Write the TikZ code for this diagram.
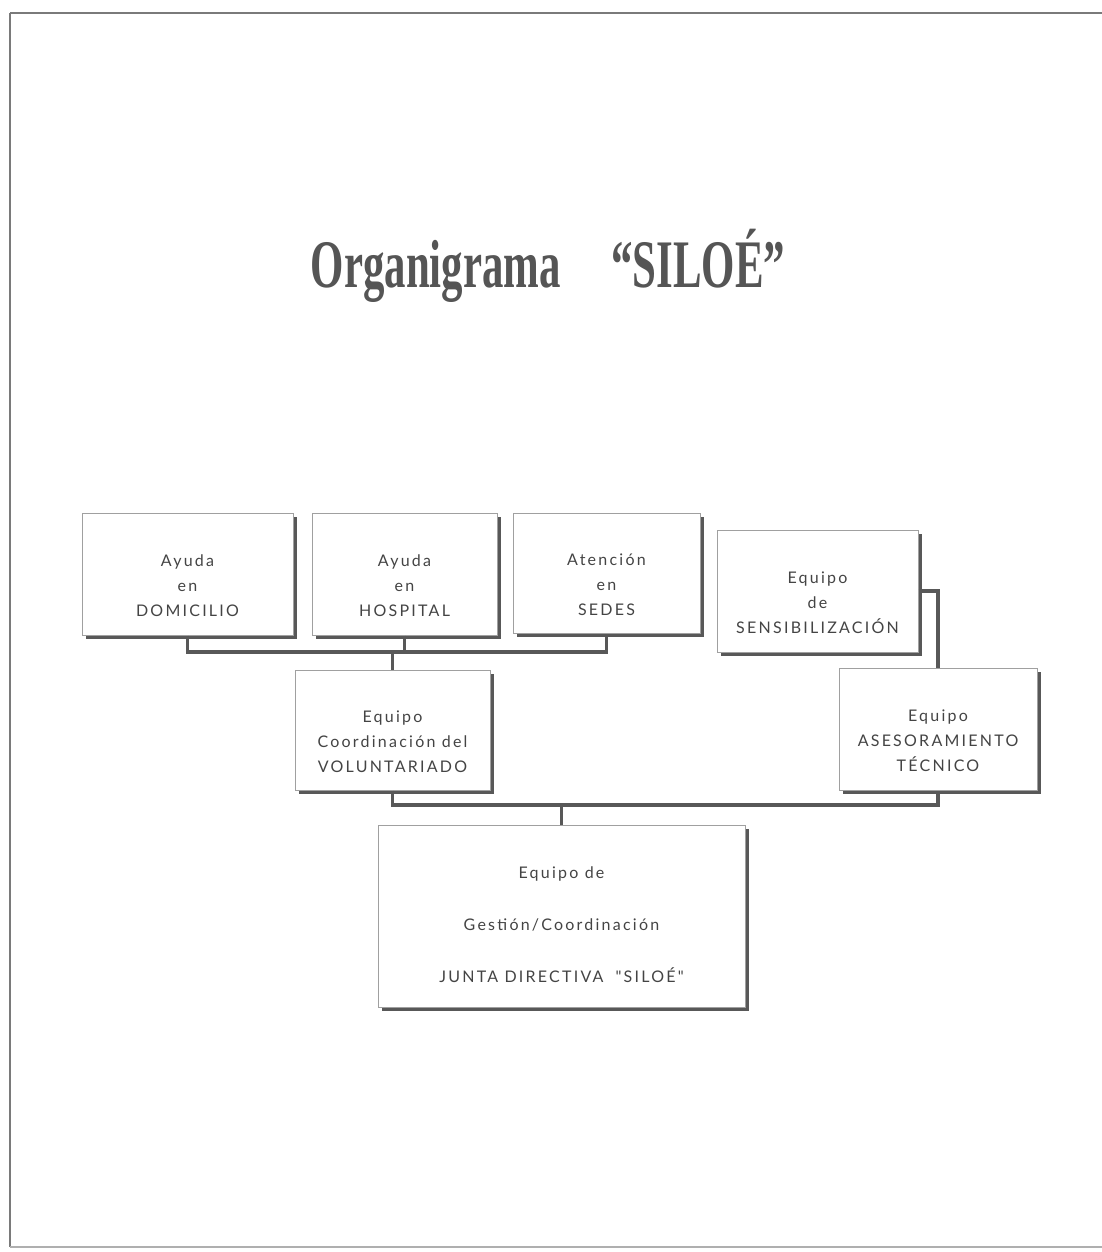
\documentclass[tikz,border=0pt]{standalone}
\usepackage{fontspec}
\setmainfont{Liberation Serif}
\newfontfamily\boxfont{Lato}[LetterSpace=14]
\usetikzlibrary{shadows}
\definecolor{ink}{HTML}{444444}
\definecolor{titlec}{HTML}{555555}
\definecolor{shadowc}{HTML}{585858}
\definecolor{edge}{HTML}{A0A0A0}
\definecolor{pagec}{HTML}{7A7A7A}
\tikzset{
  orgbox/.style={draw=edge, line width=0.5pt, fill=white, inner sep=0pt,
    drop shadow={shadow xshift=2pt, shadow yshift=-2pt, fill=shadowc, opacity=1}},
  boxtext/.style={align=center, text=ink, font=\boxfont\fontsize{8}{12.5}\selectfont, yshift=-6pt},
  bigtext/.style={align=center, text=ink, font=\boxfont\fontsize{8}{26}\selectfont, yshift=-4.5pt},
  conn/.style={draw=shadowc, line width=1.9pt},
  pageline/.style={draw=pagec, line width=1pt},
  titletext/.style={text=titlec, inner sep=0pt, anchor=base}
}
\begin{document}
\begin{tikzpicture}[x=0.5pt, y=-0.5pt]
\useasboundingbox (0,0) rectangle (1102,1252);
% page frame
\draw[pageline, line width=1.3pt] (1102,13) -- (10,13);
\draw[pageline] (10,13) -- (10,1247);
\draw[pageline, draw=pagec!60, line width=0.8pt] (10,1247) -- (1102,1247);
% title
\node[titletext] (title) at (548,287) {\scalebox{0.63}[1]{\bfseries\fontsize{34}{34}\selectfont Organigrama\hspace{40pt}“SILOÉ”}};
% boxes
\node[orgbox, minimum width=105.5pt, minimum height=61pt,
  label={[boxtext]center:Ayuda\\en\\DOMICILIO}] (b1) at (187.5,574) {};
\node[orgbox, minimum width=92.5pt, minimum height=61pt,
  label={[boxtext]center:Ayuda\\en\\HOSPITAL}] (b2) at (404.5,574) {};
\node[orgbox, minimum width=93.5pt, minimum height=60pt,
  label={[boxtext]center:Atención\\en\\SEDES}] (b3) at (606.5,573) {};
\node[orgbox, minimum width=100.5pt, minimum height=61pt,
  label={[boxtext]center:Equipo\\de\\SENSIBILIZACIÓN}] (b4) at (817.5,591) {};
\node[orgbox, minimum width=97.5pt, minimum height=60pt,
  label={[boxtext]center:Equipo\\Coordinación del\\VOLUNTARIADO}] (b5) at (392.5,730) {};
\node[orgbox, minimum width=99pt, minimum height=61pt,
  label={[boxtext]center:Equipo\\ASESORAMIENTO\\TÉCNICO}] (b6) at (938,729) {};
\node[orgbox, minimum width=183.5pt, minimum height=91pt,
  label={[bigtext]center:Equipo de\\Gestión/Coordinación\\JUNTA DIRECTIVA\hspace{6pt}"SILOÉ"}] (b7) at (561.5,916) {};
% connectors
\coordinate (bus1) at (0,652);
\coordinate (bus2) at (0,805);
\draw[conn] (b1.south) -- (b1.south |- bus1) -- (b3.south |- bus1) -- (b3.south);
\draw[conn] (b2.south) -- (b2.south |- bus1);
\draw[conn] (b5.north) -- (b5.north |- bus1);
\draw[conn] (b5.south) -- (b5.south |- bus2) -- (b6.south |- bus2) -- (b6.south);
\draw[conn] (b7.north) -- (b7.north |- bus2);
\draw[conn] (b4.east) -| (b6.north);
\end{tikzpicture}
\end{document}
